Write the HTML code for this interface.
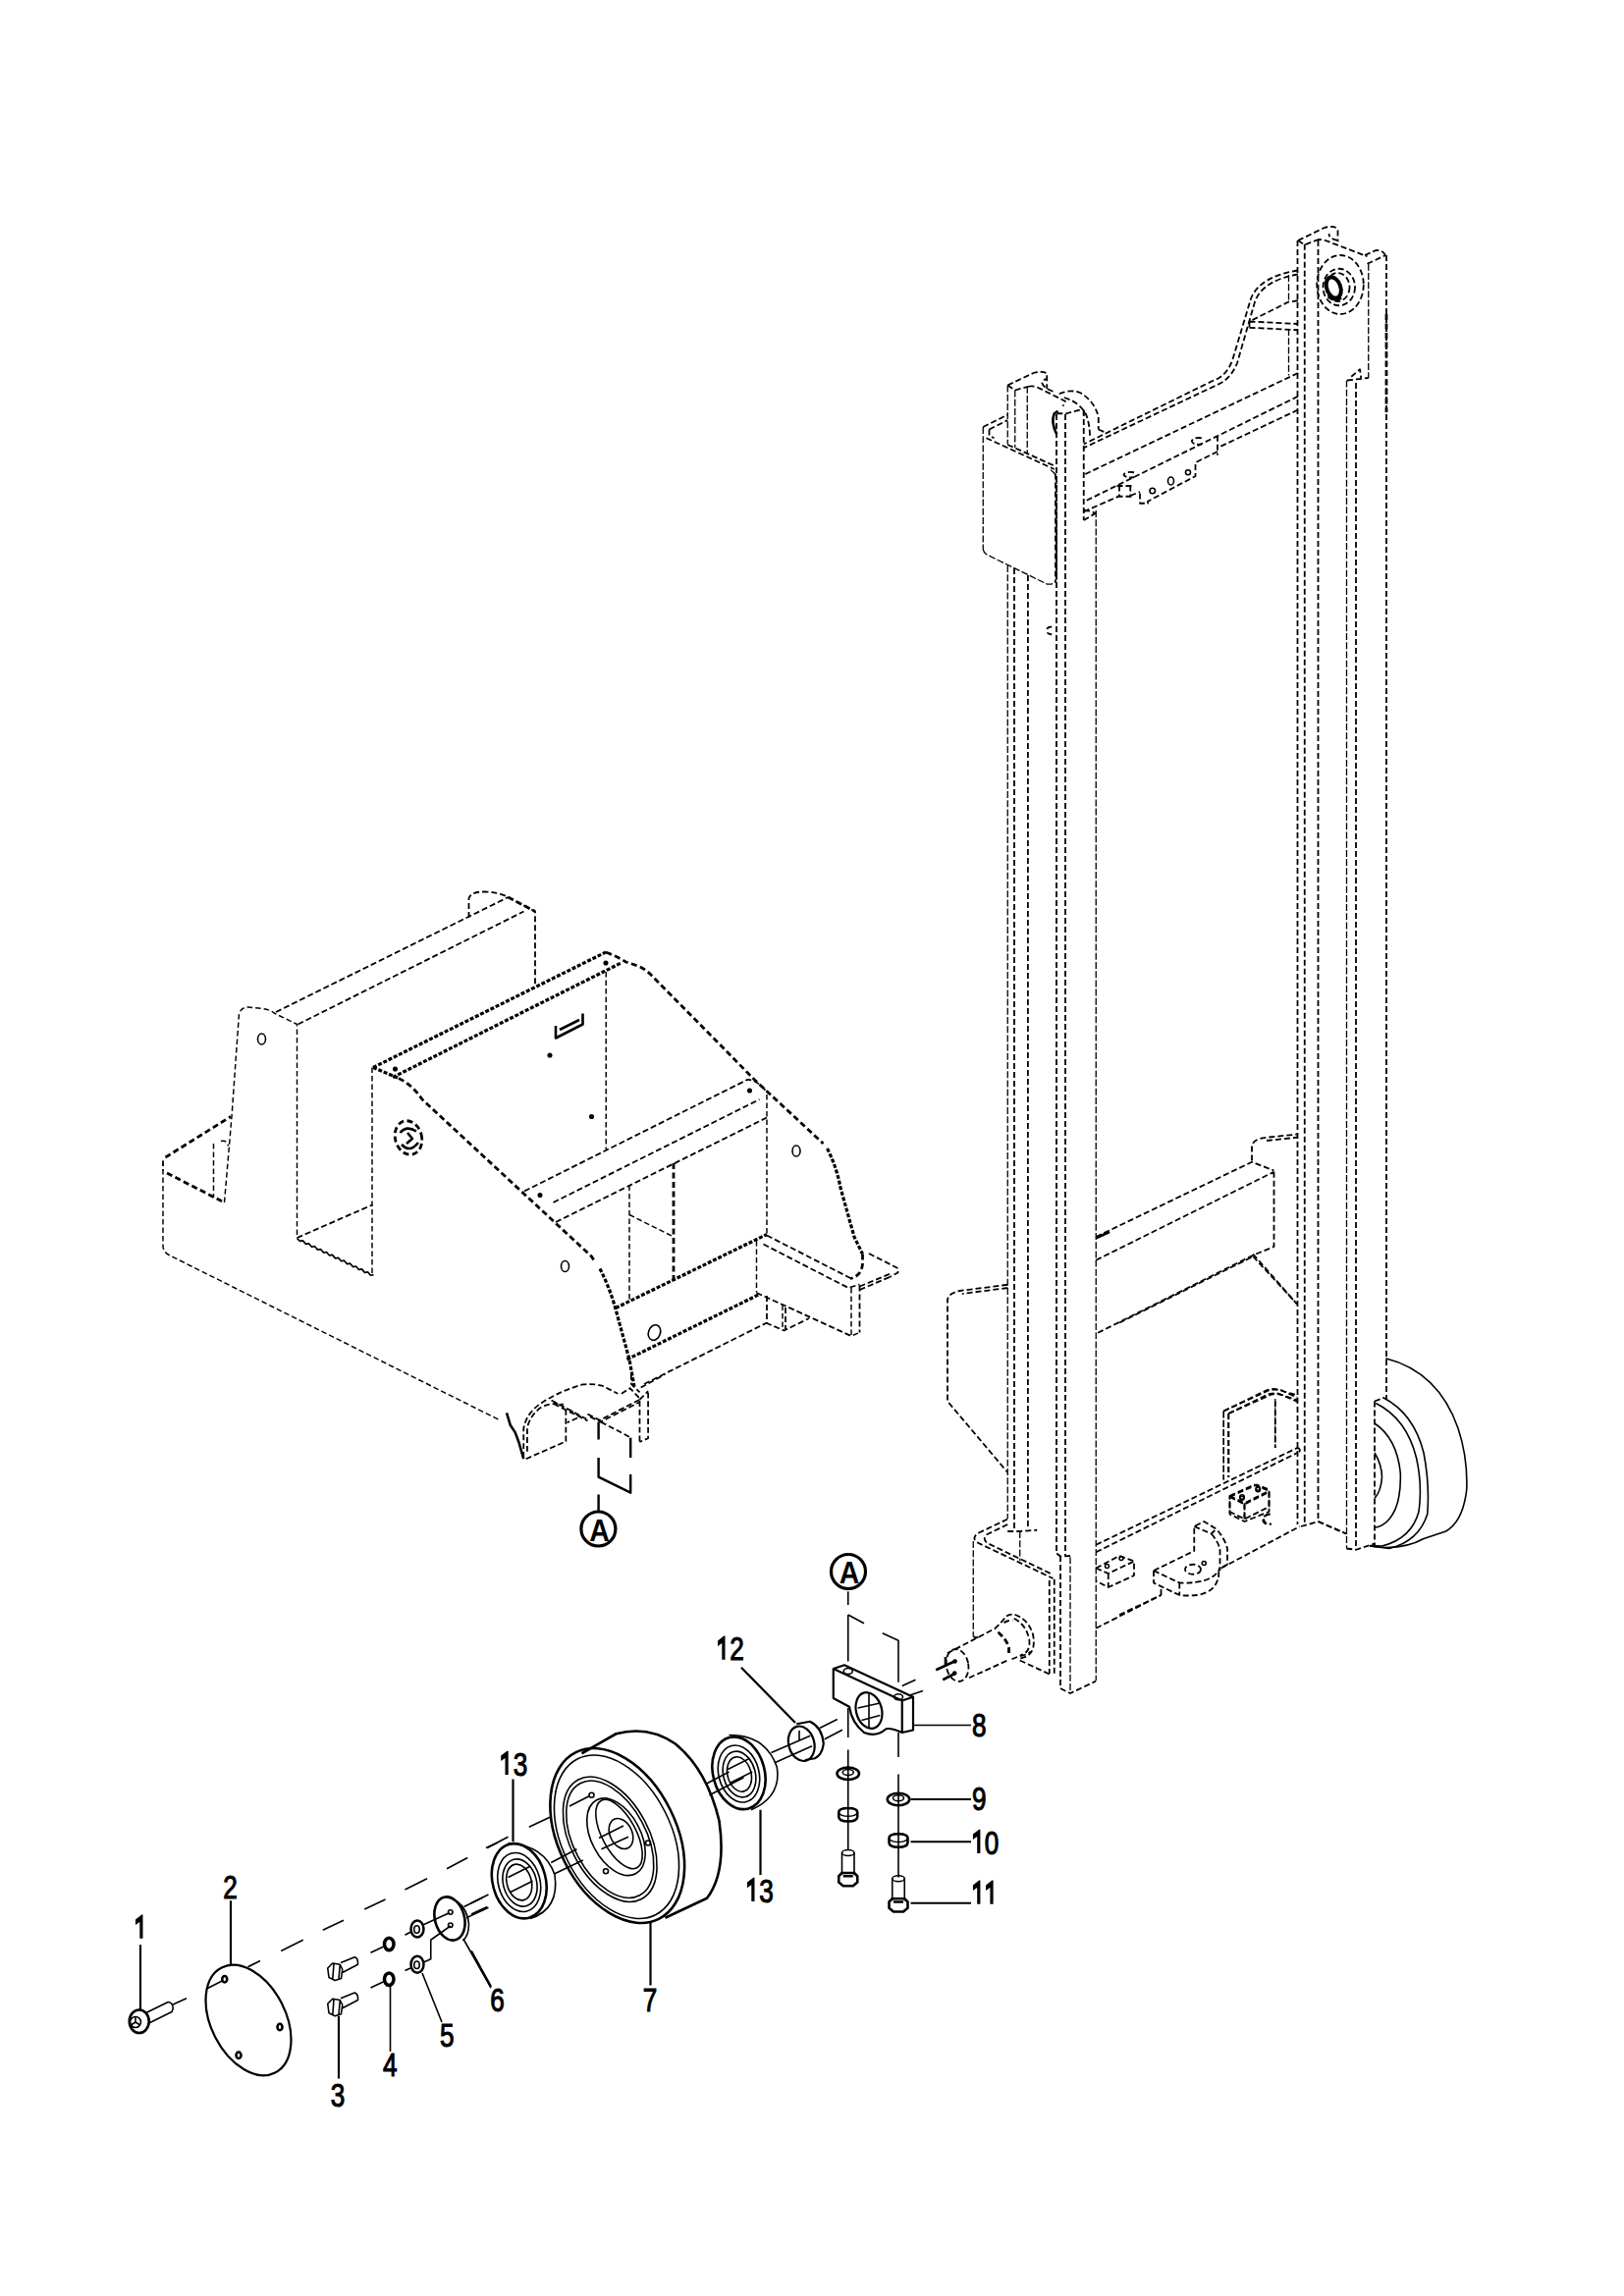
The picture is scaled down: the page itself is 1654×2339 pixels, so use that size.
<!DOCTYPE html>
<html><head><meta charset="utf-8"><style>
html,body{margin:0;padding:0;background:#fff;width:1654px;height:2339px;overflow:hidden}
svg{position:absolute;left:0;top:0}
path,ellipse,circle,polyline,polygon,line{fill:none;stroke:#000;stroke-linecap:butt;stroke-linejoin:round}
.d{stroke-width:1.8;stroke-dasharray:6 3}
.t{stroke-width:1.3;stroke-dasharray:7 2.2}
.s{stroke-width:1.6}
.k{stroke-width:2.6}
.L{stroke-width:2.2}
.h{stroke-width:2.8;stroke-dasharray:6 3.5}
.w{stroke-width:3.2;stroke-dasharray:4 1.8}
.z2 .d{stroke-width:3.6;stroke-dasharray:12 6}
.z2 .t{stroke-width:2.9;stroke-dasharray:11 6}
.z2 .s{stroke-width:3.2}
.z2 .k{stroke-width:5.2}
.z2 .h{stroke-width:5.6;stroke-dasharray:12 7}
.z2 .w{stroke-width:6.4;stroke-dasharray:8 3.6}
.z4 .d{stroke-width:7.2;stroke-dasharray:24 12}
.z4 .t{stroke-width:5.2;stroke-dasharray:28 8.8}
.z4 .s{stroke-width:6.4}
.z4 .k{stroke-width:10.4}
.z4 .L{stroke-width:8.8}
.z4 .h{stroke-width:11.2;stroke-dasharray:24 14}
.z4 .w{stroke-width:12.8;stroke-dasharray:16 7.2}
.z8 .d{stroke-width:14.4;stroke-dasharray:48 24}
.z8 .t{stroke-width:10.4;stroke-dasharray:56 17.6}
.z8 .s{stroke-width:12.8}
.z8 .k{stroke-width:20.8}
.z8 .h{stroke-width:22.4;stroke-dasharray:48 28}
.z8 .w{stroke-width:25.6;stroke-dasharray:32 14.4}
.lbl2 text{font-family:"Liberation Sans",sans-serif;font-size:33.5px;fill:#000;stroke:#000;stroke-width:1.1}
.lbl2 .one{fill:#000;stroke:none}
.lbl{font-family:"Liberation Sans",sans-serif;font-weight:bold;font-size:32px;fill:#000;stroke:none}
</style></head><body>
<svg width="1654" height="2339" viewBox="0 0 1654 2339">
<!-- 10_rails.svg -->
<g id="rails">
<path class="d" d="M1321.5,245V1553 M1328.75,248.75V1553 M1342.5,245V1550 M1381,390V1579 M1412,260V1425"/>
<path class="t" d="M1371.5,387.5V1577 M1393.75,268.75V385"/>
<path class="t" d="M1026.25,576V1547 M1116.25,520V1712"/>
<path class="d" d="M1046.9,586V1555"/>
<path class="d" d="M1033,579V1560 M1076,422V1582 M1085,422V1585 M1103.75,418V530"/>
<path class="d" d="M1116.25,1573.75L1321.25,1475 M1116.25,1581.25L1321.25,1480 M1321.25,1475Q1326,1476 1322,1481"/>
<path class="d" d="M1116.25,1658.75L1182.5,1625 M1243.75,1597.5L1323.75,1555 M1342.5,1550L1371.25,1562.5"/>
<path class="h" d="M1412,320V420"/>
</g>

<!-- 20_t1.svg -->
<g class="z4" transform="translate(1100 220) scale(.25)">
<path class="d" d="M888,100 L995,48 Q1045,35 1050,60 L1050,105 M1050,100 Q1010,90 1015,72 M888,100 L915,118 L960,100 M960,100 Q980,92 1000,100 L1170,165 M1160,160 L1205,140 Q1240,140 1245,165 M1170,195 L1245,160"/>
<ellipse class="d" cx="1060" cy="280" rx="95" ry="120"/>
<ellipse class="d" cx="1055" cy="290" rx="65" ry="75"/>
<ellipse class="d" cx="1050" cy="290" rx="48" ry="58"/>
<ellipse cx="1033" cy="292" rx="28" ry="44" transform="rotate(-20 1033 292)" style="stroke-width:16"/><path class="k" d="M1010,330 Q1040,350 1065,335"/>
<path class="d" d="M888,222 C800,235 720,270 695,340 L620,590 Q595,655 540,672 L15,930 M888,238 C805,252 735,285 712,350 L640,600 Q612,668 555,690 L15,945"/>
<path class="t" d="M850,240V350 M850,460V650"/>
<path class="d" d="M888,345 L850,350 L690,430 M690,430 L888,440 M690,455 L888,465 M690,430 L690,455"/>
<path class="d" d="M888,640 L15,1055 M888,735 L15,1165 M888,790 L560,945 M560,895 L560,975 M560,960 L470,1005 L470,1060 L276,1163 L276,1171 L244,1171 L244,1124"/>
<circle class="s" cx="295" cy="1120" r="11"/><ellipse class="s" cx="370" cy="1080" rx="12" ry="16"/><circle class="s" cx="440" cy="1045" r="10"/>
<path class="d" d="M495,905 Q460,900 455,918 Q462,935 495,930 M220,1045 Q185,1040 178,1055 Q185,1068 220,1065"/>
<path class="d" d="M160,1098V1143 M205,1098V1143 M150,1100H215 M150,1143H215 M15,1205 L157,1143 M205,1140 L244,1124"/>
<path class="d" d="M1105,655 L1140,625 L1145,660 M1088,670 L1175,660"/>
</g>

<!-- 21_t2.svg -->
<g class="z4" transform="translate(940 360) scale(.25)">
<path class="t" d="M345,130 L345,370 M375,150 L375,385 M425,135 L425,410"/>
<path class="d" d="M345,130 L450,80 Q490,70 505,82 L505,145 M345,130 L375,150 L430,135 M530,155 Q490,140 485,120 Q490,105 505,105 M430,135 Q450,130 470,140 L580,195 L570,215"/>
<path class="d" d="M555,165 Q600,145 640,160 Q700,195 715,260 L715,310 M575,180 Q640,200 665,250 Q680,290 680,340 M715,310 L750,325"/>
<path class="d" d="M545,245 L585,245 L640,230 M655,230 L655,250"/>
<path class="k" d="M545,330 Q520,280 535,245 L550,235"/>
<path class="t" d="M245,300 L245,800"/>
<path class="d" d="M245,300 L345,250 M270,310 L345,272 M270,310 L270,335 L290,345"/>
<path class="d" d="M258,345 L535,472 M345,372 L535,458"/>
<path class="t" d="M520,475 Q545,490 545,520 L545,915 Q540,945 505,940 L260,820 Q245,810 245,795"/>
<path class="d" d="M540,490 L540,930"/>
<path class="d" d="M525,1115 Q505,1112 505,1130 Q505,1145 525,1145"/>
<path class="d" d="M655,640 Q690,640 705,655 M655,680 L705,650"/>
</g>

<!-- 22_t3.svg -->
<g class="z4" transform="translate(940 1150) scale(.25)">
<path class="d" d="M345,635 L150,660 Q100,670 100,700 L100,1110 L345,1400 M345,648 L160,672"/>
<path class="d" d="M705,440 L1340,135 L1430,170 M705,535 L1430,175 M1430,175 L1430,480 L1345,515 L705,835"/>
<path class="d" d="M1345,510 L1525,715"/>
<path class="d" d="M1340,130 L1340,70 Q1345,40 1400,35 L1525,22 M1400,48 L1525,35"/>
<path class="k" d="M705,445 L760,420"/>
<path class="t" d="M1225,1150 L1225,1430 M1435,1100 L1435,1300"/>
<path class="d" d="M1245,1160 L1245,1420 M1225,1150 L1410,1065 Q1440,1058 1470,1070 L1525,1085 M1245,1160 L1420,1082 Q1445,1076 1480,1090 L1525,1105"/>

<path class="d" d="M1250,1500 L1360,1450 L1410,1470 L1410,1560 L1310,1600 L1250,1570 Z M1250,1500 L1310,1530 L1410,1480 M1310,1530 L1310,1600"/>
<circle class="s" cx="1300" cy="1500" r="9"/><circle class="s" cx="1365" cy="1470" r="9"/>
<path class="d" d="M1410,1570 Q1385,1575 1385,1595 Q1390,1615 1415,1610"/>
</g>

<!-- 23_t4.svg -->
<g class="z4" transform="translate(940 1450) scale(.25)">
<path class="d" d="M345,390 L230,445 Q195,465 220,485 L530,632 M345,412 L262,452 Q240,470 262,488 L520,612"/>
<path class="t" d="M205,480 L205,866 M395,440 L395,560 M600,545 L600,1095"/>
<path class="d" d="M515,640 L515,1020 M535,635 L535,1025 M345,440 L395,440 L465,435"/>
<path class="d" d="M560,540 L560,1080 L600,1100 L705,1050 M545,530 L560,542 L600,540"/>
<path class="d" d="M99,937 L294,836 Q324,807 336,789 Q350,777 374,779 M330,813 Q342,802 365,804 M188,1037 L345,966 M362,961 L389,950 Q420,945 440,930 M395,966 L515,1022 M205,866 Q210,878 232,869"/>
<path class="d" d="M374,779 Q430,800 448,860 Q460,920 430,945 Q410,958 385,958 M371,795 Q420,820 433,880 Q440,935 395,946"/>
<path class="h" d="M306,851 Q340,880 350,913 L350,949"/>
<ellipse class="d" cx="140" cy="986" rx="45" ry="66" transform="rotate(-10 140 986)"/>
<path class="k" d="M53,1005 L137,966 M81,1045 L129,1020 M92,952 L92,985"/>
<circle class="k" cx="130" cy="970" r="4"/><circle class="k" cx="129" cy="1018" r="4"/>
<path class="d" d="M705,590 L800,540 L860,562 L860,620 L755,668 L705,642 M705,590 L755,612 L860,562 M755,612 L755,668"/>
<circle class="s" cx="750" cy="582" r="8"/><circle class="s" cx="808" cy="550" r="8"/>
</g>

<!-- 24_t5.svg -->
<g class="z4" transform="translate(1140 1280) scale(.25)">
<path class="s" d="M1085,415 Q1300,470 1380,700 Q1420,820 1415,950 Q1400,1080 1330,1120 L1240,1150 Q1150,1200 1020,1180"/>
<path class="s" d="M1075,575 Q1200,640 1240,800 Q1265,930 1255,1050 Q1220,1160 1100,1190 L1020,1180"/>
<path class="s" d="M1045,598 Q1170,660 1210,820 Q1235,930 1220,1040 Q1190,1150 1070,1180 L1020,1178"/>
<path class="s" d="M1040,680 Q1130,740 1145,880 Q1150,1010 1100,1070 Q1075,1100 1040,1105"/>
<path class="s" d="M1040,800 Q1070,850 1070,900 Q1065,960 1040,985"/>
<path class="d" d="M1040,590 L1040,1180 M1040,590 L1080,575"/>
<path class="d" d="M810,1080 L925,1130 M740,1100 L810,1080 M925,1190 L965,1195 L1040,1170"/>
<path class="t" d="M425,630 L425,910"/><path class="d" d="M635,590 L635,780"/>
<path class="d" d="M445,640 L445,900 M425,630 L600,545 Q630,535 660,545 L725,575 M445,640 L610,560 Q635,553 660,563 L725,592"/>
<path class="d" d="M0,270 L545,0 M545,0 L725,195"/>
<path class="d" d="M450,975 L550,930 L610,955 L610,1020 L510,1070 L450,1040 Z M450,975 L510,1005 L610,955 M510,1005 L510,1070"/>
<circle class="s" cx="500" cy="985" r="8"/><circle class="s" cx="565" cy="945" r="8"/>
<path class="d" d="M615,1050 Q590,1050 588,1070 Q592,1095 620,1090"/>
<path class="d" d="M140,1280 L305,1200 L305,1100 L345,1080 L395,1110 Q430,1150 440,1190 L440,1255 L410,1270 M305,1100 L375,1130 L395,1110 M375,1130 Q405,1165 410,1195 L410,1280"/>
<path class="d" d="M140,1280 L140,1330 L245,1380 Q390,1395 405,1300 L405,1270 M140,1280 L245,1330 Q380,1335 410,1270 M245,1330 L245,1380"/>
<ellipse class="d" cx="300" cy="1275" rx="32" ry="20"/><circle class="s" cx="345" cy="1250" r="8"/>
<path class="d" d="M0,1460 L170,1380 M170,1380 L170,1350"/>
</g>

<!-- 30_base.svg -->
<g class="z2" transform="translate(150 880) scale(.5)">
<path class="t" d="M32,605 L32,780 Q34,792 44,797 L719,1134"/>
<path class="h" d="M37,598 L170,515 M40,630 L157,690"/>
<path class="t" d="M32,605 L32,625 M135,570 L135,680 M150,565 Q162,562 165,575"/>
<path class="t" d="M157,690 L172,515 L187,305 Q192,292 205,292 L235,295 Q250,297 260,305 L305,327 L305,762"/>
<path class="d" d="M262,302 L735,68 M307,327 L767,97 M655,110 L655,70 Q660,57 685,57 Q715,57 735,68 L790,97 L790,250"/>
<path class="h" d="M735,68 L790,97"/>
<path class="d" d="M305,762 L458,695"/>
<path class="t" d="M458,415 L458,840"/>
<path class="w" d="M460,415 L934,180 M500,435 L965,202"/>
<path class="w" d="M460,415 L512,437"/>
<path class="h" d="M934,180 Q960,190 975,200 L1000,208 Q1015,215 1025,225 L1237,440 L1377,570"/>
<path class="h" d="M512,437 Q540,450 560,480 L905,800 L912,812"/>
<path class="w" d="M922,825 Q940,860 952,900 L982,1010 L992,1065"/>
<path class="w" d="M1385,580 Q1405,620 1412,660 L1440,760 L1457,795"/>
<path class="h" d="M1457,795 L1457,815 Q1455,840 1432,845"/>
<path class="t" d="M934.5,220 L934.5,582"/>
<path class="d" d="M768,667 L1222,440 Q1240,438 1262,465 M827,690 L1247,480 M832,730 L1262,517"/>
<path class="h" d="M1072,610 L1072,850"/>
<path class="t" d="M982,655 L982,890 M982,715 L1072,760 M1262,470 L1262,760"/>
<path class="w" d="M954,905 L1262,755 M977,1010 L1247,877"/>
<path class="d" d="M1012,1060 L1262,935"/>
<path class="d" d="M1262,757 L1434,845 M1255,775 L1428,864 L1451,857 M1470,794 L1529,824 L1529,833 L1512,842 M1451,868 L1512,842 M1451,861 L1514,835"/>
<path class="t" d="M1241,768 L1241,873 M1434,864 L1434,962 L1451,955 M1294,899 L1294,950"/>
<path class="d" d="M1451,859 L1451,955 M1241,874 L1434,962 M1262,880 L1262,936 L1297,951 L1348,926 M1300,904 L1300,948"/>
<path class="s" style="stroke-width:3.4" d="M305,763 L311,768.9 L317,767.8 L323,774.7 L329,773.6 L335,780.5 L341,779.4 L347,786.3 L353,785.2 L359,792.1 L365,791.0 L371,797.9 L377,796.8 L383,803.7 L389,802.6 L395,809.5 L401,808.4 L407,815.3 L413,814.2 L419,821.1 L425,820.0 L431,826.9 L437,825.8 L443,832.7 L449,831.6 L455,838.5 L461,837.4"/>
<ellipse class="s" cx="233" cy="357" rx="8" ry="11"/>
<ellipse class="h" cx="532" cy="558" rx="27" ry="35" transform="rotate(-15 532 558)"/>
<path class="k" d="M515,548 Q528,532 548,545 M518,572 Q535,590 552,568 M530,548 L540,560 L528,570"/>
<ellipse class="s" cx="851" cy="820" rx="8" ry="11"/>
<ellipse class="s" cx="1033" cy="955" rx="12" ry="16" transform="rotate(20 1033 955)"/>
<ellipse class="s" cx="1322" cy="585" rx="8" ry="11"/>
<circle class="k" cx="820" cy="390" r="2.5"/><circle class="k" cx="905" cy="515" r="2.5"/><circle class="k" cx="1227" cy="462" r="2.5"/><circle class="k" cx="800" cy="675" r="2.5"/><circle class="k" cx="505" cy="418" r="2.5"/><circle class="k" cx="934" cy="202" r="2.5"/>
<path class="k" d="M832,330 L832,355 L887,327 L887,305 M840,338 L880,318"/>
</g>

<!-- 31_hook.svg -->
<g class="z8" transform="translate(500 1400) scale(.12315)">

<path class="k" d="M130,320 L160,420 L200,480 L230,560 L270,700"/>
<path class="d" d="M270,690 L270,450 Q290,330 400,250 Q560,140 760,85 Q850,75 920,95 L1050,160"/>
<path class="d" d="M290,700 L620,555 L620,280 M300,640 L300,440 Q330,330 420,270 Q500,230 600,250"/>
<path class="d" d="M500,215 L790,370 M520,245 L800,385 M640,290 L740,350 L630,400"/>
<path class="d" d="M800,330 L900,380 L1230,210 M820,350 L905,395 L1230,230 M1080,160 L1150,115 L1230,200 M1230,210 L1300,140"/>
<path class="d" d="M1300,150 L1300,530 L1230,560 M1230,220 L1230,560 M1160,0 L1160,80 L1230,150 M1240,110 L1440,0"/>
<path class="d" d="M910,395 L1150,520"/>
</g>

<!-- 40_p1.svg -->
<g class="z4" transform="translate(100 1860) scale(.25)">
<path class="L" d="M172,485 L172,750"/>
<ellipse class="k" cx="167" cy="797" rx="40" ry="47"/>
<circle class="s" cx="152" cy="800" r="22"/><path class="s" d="M152,800 L152,778 M152,800 L133,812 M152,800 L171,812"/>
<path class="s" d="M195,762 L285,718 Q305,720 305,745 L300,758 L205,805 M305,728 L360,703"/>
<path class="L" d="M540,305 L540,565"/>
<ellipse class="L" cx="612" cy="792" rx="240" ry="152" transform="rotate(63 612 792)"/>
<ellipse class="k" cx="515" cy="625" rx="10" ry="13"/><ellipse class="k" cx="740" cy="820" rx="10" ry="13"/><ellipse class="k" cx="572" cy="935" rx="10" ry="13"/>
<path class="s" d="M440,665 L505,632"/>
<path class="s" d="M610,575 L660,550 M745,510 L835,465 M915,425 L1000,385 M1085,340 L1170,300 M1250,260 L1340,215 M1420,175 L1505,130 M1580,90 L1624,70"/>
<path class="s" d="M935,580 L955,560 L985,565 L995,585 L990,622 L965,630 L940,618 Z M985,566 L980,625 M960,562 L955,628 M988,558 L1045,535 Q1060,540 1058,565 L995,598"/>
<path class="s" d="M935,725 L955,705 L985,710 L995,730 L990,767 L965,775 L940,763 Z M985,711 L980,770 M960,707 L955,773 M988,703 L1045,680 Q1060,685 1058,710 L995,743"/>
<path class="L" d="M980,775 L980,1030"/>
<ellipse cx="1185" cy="482" rx="19" ry="25" style="stroke-width:14"/>
<ellipse cx="1185" cy="625" rx="19" ry="25" style="stroke-width:14"/>
<path class="s" d="M1110,517 L1163,492 M1110,660 L1163,635 M1190,655 L1190,920"/>
<ellipse cx="1300" cy="420" rx="26" ry="34" style="stroke-width:10"/><ellipse class="s" cx="1298" cy="422" rx="11" ry="15"/>
<ellipse cx="1300" cy="565" rx="26" ry="34" style="stroke-width:10"/><ellipse class="s" cx="1298" cy="567" rx="11" ry="15"/>
<path class="s" d="M1250,445 L1272,433 M1325,403 L1430,355 M1250,590 L1272,580 M1328,555 L1355,543 L1355,465 L1435,408 M1320,600 L1400,800"/>
<ellipse class="k" cx="1432" cy="378" rx="60" ry="90" transform="rotate(-15 1432 378)"/>
<path class="s" d="M1462,308 Q1505,340 1510,400 Q1510,450 1485,467"/>
<circle class="s" cx="1435" cy="352" r="9"/><circle class="s" cx="1435" cy="405" r="9"/>
<path class="s" d="M1490,330 L1565,293 M1500,375 L1590,333 M1490,465 L1600,660"/>
</g>

<!-- 41_p2.svg -->
<g class="z4" transform="translate(480 1640) scale(.25)">
<ellipse class="k" cx="595" cy="920" rx="379" ry="240" transform="rotate(63.5 595 920)"/>
<ellipse class="s" cx="592" cy="925" rx="355" ry="222" transform="rotate(63.5 592 925)"/>
<ellipse class="s" cx="565" cy="935" rx="275" ry="160" transform="rotate(62 565 935)"/>
<ellipse class="s" cx="565" cy="935" rx="258" ry="148" transform="rotate(62 565 935)"/>
<ellipse class="s" cx="590" cy="925" rx="170" ry="100" transform="rotate(62 590 925)"/>
<ellipse class="s" cx="602" cy="914" rx="155" ry="69" transform="rotate(62 602 914)"/>
<ellipse class="s" cx="610" cy="912" rx="65" ry="45" transform="rotate(65 610 912)"/>
<path class="k" d="M450,585 L590,505 Q720,470 830,545 Q960,650 1010,860 Q1040,1070 960,1175 L790,1255"/>
<circle class="s" cx="490" cy="755" r="10"/><circle class="s" cx="720" cy="950" r="10"/><circle class="s" cx="548" cy="1065" r="10"/>
<path class="s" d="M400,800 L482,758 M235,885 L320,845 M520,930 L620,880 M530,975 L640,925 M325,1030 L430,975 M340,1075 L455,1020 M955,710 L1050,660 M970,755 L1110,683"/>
<path class="s" d="M65,970 L150,925 M0,1195 L70,1160 M0,1240 L65,1210"/>
<ellipse class="k" cx="195" cy="1105" rx="108" ry="155" transform="rotate(-15 195 1105)"/>
<path class="s" d="M150,950 Q300,960 340,1080 Q360,1220 240,1258"/>
<ellipse class="s" cx="195" cy="1110" rx="85" ry="122" transform="rotate(-15 195 1110)"/>
<ellipse class="s" cx="198" cy="1112" rx="68" ry="98" transform="rotate(-15 198 1112)"/>
<ellipse class="s" cx="195" cy="1110" rx="50" ry="75" transform="rotate(-15 195 1110)"/>
<path class="s" d="M150,1090 L240,1045 M160,1150 L250,1105"/>
<path class="L" d="M170,690 L170,945 M730,1270 L730,1530 M1100,235 L1320,460 M0,1390 L80,1535 M1178,815 L1178,1080"/>
<ellipse class="k" cx="1090" cy="665" rx="105" ry="150" transform="rotate(-15 1090 665)"/>
<path class="s" d="M1050,510 Q1200,510 1245,640 Q1265,760 1140,815"/>
<ellipse class="s" cx="1090" cy="668" rx="82" ry="118" transform="rotate(-15 1090 668)"/>
<ellipse class="s" cx="1092" cy="670" rx="65" ry="95" transform="rotate(-15 1092 670)"/>
<ellipse class="s" cx="1092" cy="670" rx="48" ry="72" transform="rotate(-15 1092 670)"/>
<path class="s" d="M1045,650 L1135,605 M1055,705 L1145,660"/>
<ellipse class="L" cx="1345" cy="545" rx="52" ry="72" transform="rotate(-15 1345 545)"/>
<path class="L" d="M1325,465 L1380,455 Q1430,480 1435,545 Q1430,590 1400,605 L1360,612"/>
<path class="s" d="M1222,582 L1381,513 M1236,623 L1388,555 M1419,482 L1491,446 M1439,527 L1512,489 M1336,492 L1336,530"/>
</g>

<!-- 42_p3.svg -->
<g class="z4" transform="translate(780 1600) scale(.25)">

<path class="s" d="M335,85 L335,140 M335,180 L335,370 M335,180 L400,215 M475,255 L540,285 L540,455 M335,560 L335,680 M335,730 L335,1140 M540,660 L540,760 M540,830 L540,1250"/>
<path class="L" d="M275,400 L320,385 L600,515 L555,530 Z M275,400 L275,520 L340,555 Q350,620 400,660 Q450,680 490,645 Q510,640 555,660 L555,530 M555,530 L600,515 L600,650 L555,660"/>
<ellipse class="L" cx="420" cy="570" rx="52" ry="75" transform="rotate(-15 420 570)"/>
<path class="s" d="M375,560 L465,540 M390,610 L465,590 M420,500 L420,640"/>
<ellipse class="s" cx="335" cy="410" rx="18" ry="12"/><ellipse class="s" cx="540" cy="515" rx="18" ry="12"/>
<path class="s" d="M600,630 L836,630 M555,470 L610,445 M580,510 L640,490"/>
<ellipse class="k" cx="335" cy="827" rx="45" ry="25"/><ellipse class="s" cx="335" cy="822" rx="22" ry="12"/>
<path class="k" d="M297,985 Q297,968 335,968 Q373,968 373,985 L373,1003 Q373,1022 335,1022 Q297,1022 297,1003 Z"/><path class="s" d="M297,990 Q310,1001 335,1001 Q360,1001 373,990"/>
<path class="s" d="M310,1150 L310,1240 M360,1150 L360,1240"/><ellipse class="s" cx="335" cy="1150" rx="25" ry="12"/>
<path class="k" d="M297,1245 L310,1232 L360,1232 L373,1245 L373,1270 L355,1285 L315,1285 L297,1270 Z M315,1245 L355,1245"/>
<ellipse class="k" cx="540" cy="932" rx="45" ry="25"/><ellipse class="s" cx="540" cy="927" rx="22" ry="12"/>
<path class="k" d="M502,1090 Q502,1073 540,1073 Q578,1073 578,1090 L578,1108 Q578,1127 540,1127 Q502,1127 502,1108 Z"/><path class="s" d="M502,1095 Q515,1106 540,1106 Q565,1106 578,1095"/>
<path class="s" d="M515,1255 L515,1345 M565,1255 L565,1345"/><ellipse class="s" cx="540" cy="1255" rx="25" ry="12"/>
<path class="k" d="M502,1350 L515,1337 L565,1337 L578,1350 L578,1375 L560,1390 L520,1390 L502,1375 Z M520,1350 L560,1350"/>
<path class="L" d="M590,932 L836,932 M590,1105 L836,1105 M590,1355 L836,1355"/>
</g>

<!-- 50_labels.svg -->
<g class="lbl2">
<path class="one" transform="translate(138 1974.8)" d="M0,-19.4 L6.3,-24.2 H7.5 V0 H4.3 V-16.8 L0,-13.8 Z"/>
<text transform="translate(227.32 1934.30) scale(0.78 1)">2</text>
<text transform="translate(336.82 2146.00) scale(0.78 1)">3</text>
<text transform="translate(390.02 2115.00) scale(0.78 1)">4</text>
<text transform="translate(448.02 2084.50) scale(0.78 1)">5</text>
<text transform="translate(499.32 2048.50) scale(0.78 1)">6</text>
<text transform="translate(654.72 2048.50) scale(0.78 1)">7</text>
<text transform="translate(990.12 1769.40) scale(0.78 1)">8</text>
<text transform="translate(990.12 1843.90) scale(0.78 1)">9</text>
<path class="one" transform="translate(990.9 1887.9)" d="M0,-19.4 L6.3,-24.2 H7.5 V0 H4.3 V-16.8 L0,-13.8 Z"/>
<text transform="translate(1002.82 1888.50) scale(0.78 1)">0</text>
<path class="one" transform="translate(990.9 1939.8)" d="M0,-19.4 L6.3,-24.2 H7.5 V0 H4.3 V-16.8 L0,-13.8 Z"/>
<path class="one" transform="translate(1004.1 1939.8)" d="M0,-19.4 L6.3,-24.2 H7.5 V0 H4.3 V-16.8 L0,-13.8 Z"/>
<path class="one" transform="translate(731 1690.8)" d="M0,-19.4 L6.3,-24.2 H7.5 V0 H4.3 V-16.8 L0,-13.8 Z"/>
<text transform="translate(743.32 1691.40) scale(0.78 1)">2</text>
<path class="one" transform="translate(510.2 1807.9)" d="M0,-19.4 L6.3,-24.2 H7.5 V0 H4.3 V-16.8 L0,-13.8 Z"/>
<text transform="translate(522.72 1808.50) scale(0.78 1)">3</text>
<path class="one" transform="translate(761 1937)" d="M0,-19.4 L6.3,-24.2 H7.5 V0 H4.3 V-16.8 L0,-13.8 Z"/>
<text transform="translate(773.22 1937.60) scale(0.78 1)">3</text>
</g>
<g>
<circle cx="609.4" cy="1557.5" r="17.5" style="stroke-width:3.2"/>
<text class="lbl" text-anchor="middle" style="font-size:31px" transform="translate(610.6 1569.6) scale(.92 1)">A</text>
<path style="stroke-width:2.4" d="M609.6,1449 V1466.5 M609.6,1485 V1504.7 L642.2,1520.7 V1502 M642.2,1485 V1464.7 M609.6,1522.5 V1540"/>
<circle cx="864" cy="1601" r="17.5" style="stroke-width:3.2"/>
<text class="lbl" text-anchor="middle" style="font-size:31px" transform="translate(865 1613) scale(.92 1)">A</text>
</g>

</svg>
</body></html>
